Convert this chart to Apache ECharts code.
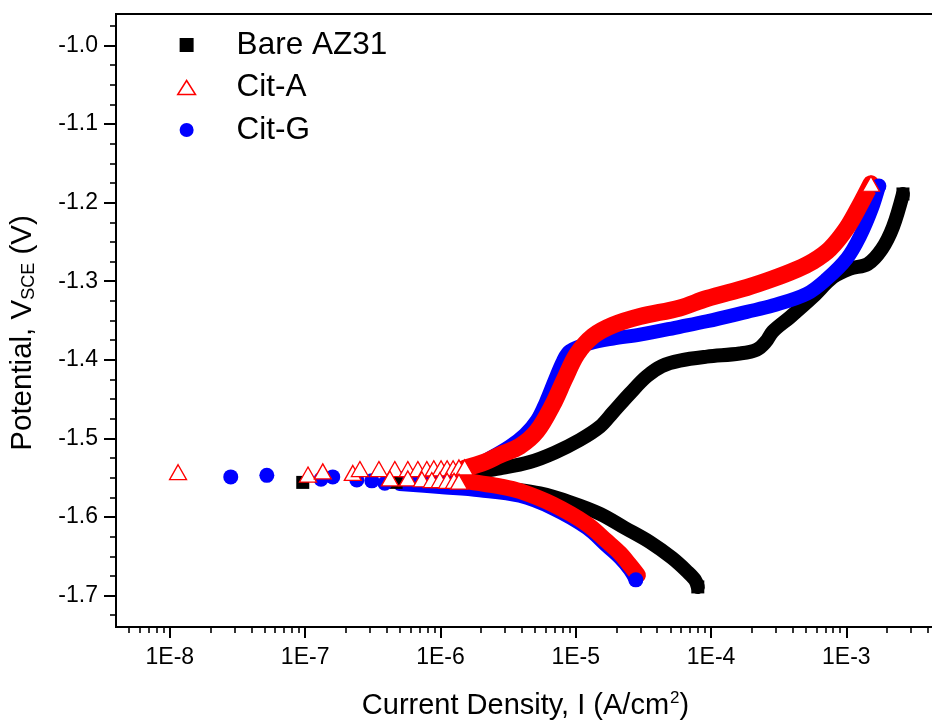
<!DOCTYPE html>
<html>
<head>
<meta charset="utf-8">
<title>Polarization curves</title>
<script src="https://cdn.jsdelivr.net/npm/echarts@6/dist/echarts.min.js"></script>
<style>
  html, body { margin: 0; padding: 0; background: #fff; }
  #chart { width: 932px; height: 722px; }
</style>
</head>
<body>
<div id="chart"></div>
<script>
  // [current density (A/cm2), potential (V vs SCE)]
  const bareCathodic = [
    [5.9e-7, -1.557], [9.9e-7, -1.558], [1.95e-6, -1.561], [3.43e-6, -1.565], [5.43e-6, -1.570],
    [9.0e-6, -1.581], [1.51e-5, -1.596], [2.31e-5, -1.614], [3.53e-5, -1.632], [5.13e-5, -1.652],
    [6.62e-5, -1.669], [7.6e-5, -1.680], [7.98e-5, -1.689]
  ];
  const bareAnodic = [
    [5.9e-7, -1.554], [9.9e-7, -1.551], [1.65e-6, -1.544], [2.75e-6, -1.538], [4.58e-6, -1.530],
    [7.0e-6, -1.518], [1.07e-5, -1.502], [1.51e-5, -1.485], [1.88e-5, -1.467], [2.51e-5, -1.443],
    [3.35e-5, -1.421], [4.33e-5, -1.408], [5.88e-5, -1.401], [9.31e-5, -1.396], [1.63e-4, -1.392],
    [2.18e-4, -1.387], [2.54e-4, -1.377], [2.86e-4, -1.364], [3.82e-4, -1.346], [5.65e-4, -1.320],
    [7.94e-4, -1.295], [1.06e-3, -1.284], [1.44e-3, -1.278], [1.83e-3, -1.259], [2.21e-3, -1.231],
    [2.62e-3, -1.189]
  ];
  const barePoints = [
    [9.6e-8, -1.556], [4.7e-7, -1.556], [7.98e-5, -1.689], [2.62e-3, -1.189]
  ];

  const citACathodic = [
    [1.51e-6, -1.554], [1.95e-6, -1.557], [2.75e-6, -1.561], [3.86e-6, -1.567], [6.77e-6, -1.584],
    [1.21e-5, -1.609], [1.70e-5, -1.631], [2.12e-5, -1.646], [2.51e-5, -1.661], [2.88e-5, -1.674]
  ];
  const citAAnodic = [
    [1.51e-6, -1.538], [2.13e-6, -1.530], [2.75e-6, -1.521], [3.86e-6, -1.510], [5.16e-6, -1.491],
    [6.77e-6, -1.457], [8.3e-6, -1.424], [1.02e-5, -1.393], [1.34e-5, -1.370], [1.88e-5, -1.356],
    [2.98e-5, -1.345], [5.88e-5, -1.334], [9.31e-5, -1.322], [1.84e-4, -1.308], [2.86e-4, -1.297],
    [4.31e-4, -1.285], [5.65e-4, -1.275], [7.55e-4, -1.259], [1.01e-3, -1.232], [1.26e-3, -1.203],
    [1.52e-3, -1.176]
  ];
  const citAPoints = [
    [1.15e-8, -1.543], [1.05e-7, -1.546], [1.35e-7, -1.542], [2.25e-7, -1.544], [2.54e-7, -1.539],
    [3.51e-7, -1.539], [4.60e-7, -1.539], [5.74e-7, -1.539], [6.81e-7, -1.539], [7.93e-7, -1.539],
    [8.93e-7, -1.538], [1.01e-6, -1.538], [1.12e-6, -1.538], [1.24e-6, -1.538], [1.37e-6, -1.537],
    [1.51e-6, -1.537],
    [4.23e-7, -1.551], [5.74e-7, -1.551], [7.29e-7, -1.552], [8.63e-7, -1.553], [9.9e-7, -1.553],
    [1.12e-6, -1.554], [1.26e-6, -1.554], [1.37e-6, -1.555],
    [1.52e-3, -1.176]
  ];

  const citGCathodic = [
    [5.0e-7, -1.558], [9.9e-7, -1.562], [1.95e-6, -1.566], [3.86e-6, -1.573], [6.77e-6, -1.589],
    [1.21e-5, -1.614], [1.70e-5, -1.637], [2.12e-5, -1.652], [2.51e-5, -1.667], [2.78e-5, -1.680]
  ];
  const citGAnodic = [
    [5.0e-7, -1.551], [9.9e-7, -1.546], [1.65e-6, -1.538], [2.32e-6, -1.525], [3.26e-6, -1.510],
    [4.21e-6, -1.495], [5.16e-6, -1.477], [6.01e-6, -1.454], [7.0e-6, -1.426], [8.03e-6, -1.402],
    [9.04e-6, -1.389], [1.27e-5, -1.379], [1.88e-5, -1.373], [2.98e-5, -1.368], [5.88e-5, -1.358],
    [9.31e-5, -1.351], [1.84e-4, -1.339], [2.86e-4, -1.331], [5.11e-4, -1.316], [7.18e-4, -1.297],
    [1.01e-3, -1.271], [1.26e-3, -1.243], [1.54e-3, -1.208], [1.74e-3, -1.179]
  ];
  const citGPoints = [
    [2.82e-8, -1.549], [5.21e-8, -1.547], [1.31e-7, -1.552], [1.60e-7, -1.549], [2.41e-7, -1.553],
    [3.11e-7, -1.554], [3.88e-7, -1.557], [2.78e-5, -1.680], [1.74e-3, -1.179]
  ];

  // axis ranges and ticks
  const X_MIN = 4e-9;
  const X_MAX = 4.52e-3;
  const Y_MIN = -1.74;
  const Y_MAX = -0.96;
  const yMajorTicks = [-1.7, -1.6, -1.5, -1.4, -1.3, -1.2, -1.1, -1.0];
  const yMinorTicks = [
    -1.725, -1.675, -1.65, -1.625, -1.575, -1.55, -1.525, -1.475, -1.45, -1.425,
    -1.375, -1.35, -1.325, -1.275, -1.25, -1.225, -1.175, -1.15, -1.125,
    -1.075, -1.05, -1.025, -0.975
  ];
  const xDecades = [-9, -8, -7, -6, -5, -4, -3];
  const xMinorMantissas = [2, 3, 4, 5, 6, 7, 8, 9];

  const FONT = '"Liberation Sans", Arial, sans-serif';
  const BLACK = '#000000';
  const RED = '#ff0000';
  const BLUE = '#0000ff';

  // minor ticks of the log axis, in log10 units for the overlay axis
  const xMinorLog = [];
  xDecades.forEach((d) => {
    xMinorMantissas.forEach((m) => {
      const v = Math.log10(m) + d;
      if (v > Math.log10(X_MIN) && v < Math.log10(X_MAX)) xMinorLog.push(v);
    });
  });

  const tickLine = { color: BLACK, width: 2 };

  const band = (name, data, color, width) => ({
    name,
    type: 'line',
    data,
    symbol: 'none',
    smooth: 0.35,
    silent: true,
    lineStyle: { color, width, cap: 'round', join: 'round' },
    z: 2,
  });

  const chart = echarts.init(document.getElementById('chart'));

  const option = {
    animation: false,
    backgroundColor: '#fff',
    textStyle: { fontFamily: FONT },
    grid: {
      left: 116,
      top: 14,
      right: -3,
      bottom: 95,
      show: true,
      borderColor: BLACK,
      borderWidth: 2,
      outerBoundsMode: 'none',
    },
    legend: {
      orient: 'vertical',
      left: 177,
      top: 29,
      padding: 0,
      itemWidth: 90,
      itemHeight: 14,
      itemGap: 10.5,
      selectedMode: false,
      textStyle: { fontSize: 31.5, lineHeight: 31, color: BLACK, fontFamily: FONT },
      data: [
        { name: 'Bare AZ31', icon: 'path://M0,0H13V13H0Z', itemStyle: { color: BLACK } },
        {
          name: 'Cit-A',
          icon: 'path://M9.5,0L19,15H0Z',
          itemStyle: { color: '#fff', borderColor: RED, borderWidth: 1.5 },
        },
        { name: 'Cit-G', icon: 'circle', itemStyle: { color: BLUE } },
      ],
    },
    xAxis: [
      {
        type: 'log',
        logBase: 10,
        position: 'bottom',
        min: X_MIN,
        max: X_MAX,
        name: 'Current Density, I (A/cm{sup|2})',
        nameLocation: 'middle',
        nameGap: 63,
        nameTextStyle: {
          fontSize: 29,
          color: BLACK,
          fontFamily: FONT,
          rich: { sup: { fontSize: 17, fontFamily: FONT, color: BLACK, padding: [0, 0, 14, 1] } },
        },
        axisLine: { show: true, lineStyle: tickLine },
        axisTick: { show: true, length: 11, lineStyle: tickLine },
        axisLabel: {
          show: true,
          fontSize: 23,
          color: BLACK,
          margin: 19,
          showMinLabel: false,
          showMaxLabel: false,
          formatter: (v) => '1E' + Math.round(Math.log10(v)),
        },
        splitLine: { show: false },
      },
      {
        type: 'value',
        position: 'bottom',
        min: Math.log10(X_MIN),
        max: Math.log10(X_MAX),
        axisLine: { show: false },
        axisLabel: { show: false },
        splitLine: { show: false },
        axisTick: {
          show: true,
          length: 6,
          customValues: xMinorLog,
          lineStyle: { color: BLACK, width: 1.6 },
        },
      },
    ],
    yAxis: [
      {
        type: 'value',
        position: 'left',
        min: Y_MIN,
        max: Y_MAX,
        name: 'Potential, V{sub|SCE} (V)',
        nameLocation: 'middle',
        nameGap: 78,
        nameTextStyle: {
          fontSize: 29.5,
          color: BLACK,
          fontFamily: FONT,
          padding: [0, 25, 0, 0],
          rich: { sub: { fontSize: 18, fontFamily: FONT, color: BLACK, padding: [12, 0, 0, 0] } },
        },
        axisLine: { show: true, lineStyle: tickLine },
        axisTick: { show: true, length: 12, customValues: yMajorTicks, lineStyle: tickLine },
        axisLabel: {
          show: true,
          customValues: yMajorTicks,
          fontSize: 23,
          color: BLACK,
          margin: 18,
          formatter: (v) => v.toFixed(1),
        },
        splitLine: { show: false },
      },
      {
        type: 'value',
        position: 'left',
        min: Y_MIN,
        max: Y_MAX,
        axisLine: { show: false },
        axisLabel: { show: false },
        splitLine: { show: false },
        axisTick: {
          show: true,
          length: 6,
          customValues: yMinorTicks,
          lineStyle: { color: BLACK, width: 1.6 },
        },
      },
    ],
    series: [
      band('Bare AZ31', bareCathodic, BLACK, 14),
      band('Bare AZ31', bareAnodic, BLACK, 14),
      {
        name: 'Bare AZ31',
        type: 'scatter',
        data: barePoints,
        symbol: 'rect',
        symbolSize: 13,
        itemStyle: { color: BLACK, opacity: 1 },
        z: 3,
      },
      band('Cit-G', citGCathodic, BLUE, 14),
      band('Cit-G', citGAnodic, BLUE, 14),
      {
        name: 'Cit-G',
        type: 'scatter',
        data: citGPoints,
        symbol: 'circle',
        symbolSize: 15,
        itemStyle: { color: BLUE, opacity: 1 },
        z: 3,
      },
      band('Cit-A', citACathodic, RED, 16),
      band('Cit-A', citAAnodic, RED, 17),
      {
        name: 'Cit-A',
        type: 'scatter',
        data: citAPoints,
        symbol: 'triangle',
        symbolSize: [17, 15],
        itemStyle: { color: '#fff', borderColor: RED, borderWidth: 1.3, opacity: 1 },
        z: 3,
      },
    ],
  };

  chart.setOption(option);
</script>
</body>
</html>
